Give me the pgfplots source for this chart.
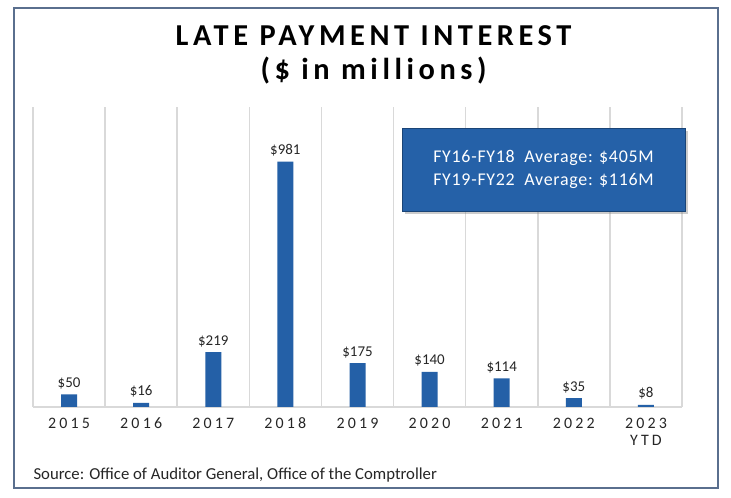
\documentclass[border=0pt]{standalone}
\usepackage{fontspec}
\setmainfont{Carlito}
\usepackage{pgfplots}
\pgfplotsset{compat=1.18}
\usetikzlibrary{shadows}
\definecolor{barblue}{HTML}{2460A7}
\definecolor{boxblue}{HTML}{2561A8}
\definecolor{frame}{HTML}{5A6F8E}
\definecolor{gridgray}{HTML}{D9D9D9}
\definecolor{txt}{HTML}{262626}

\begin{document}
\begin{tikzpicture}[x=1bp,y=1bp]
  \path[use as bounding box, fill=white] (0,0) rectangle (731,498);
  \draw[frame, line width=1.2bp] (14,10) rectangle (718,490);

  \node[font=\fontsize{30.5}{34}\selectfont\bfseries\addfontfeatures{LetterSpace=15}, text=black, align=center]
    at (373.5,443) {LATE PAYMENT INTEREST\\(\$ in millions)};

  \begin{axis}[
      at={(33bp,91bp)}, anchor=south west,
      scale only axis, width=649bp, height=300bp,
      xmin=-0.5, xmax=8.5, ymin=0, ymax=1200,
      axis x line*=bottom, axis y line=none,
      x axis line style={gridgray, line width=1.5bp, -},
      xtick={0,...,8},
      xticklabels={2015,2016,2017,2018,2019,2020,2021,2022,{2023\\YTD}},
      typeset ticklabels with strut,
      xticklabel style={align=center, text=txt, yshift=-6bp,
        font=\fontsize{16}{17}\selectfont\addfontfeatures{LetterSpace=20}},
      major tick length=0pt,
      minor xtick={-0.5,0.5,...,8.5},
      xminorgrids=true,
      minor grid style={gridgray, line width=1.5bp},
      tick style={draw=none},
      ybar, bar width=16bp,
      /pgf/number format/assume math mode=true,
      nodes near coords={\$\pgfmathprintnumber{\pgfplotspointmeta}},
      every node near coord/.append style={font=\fontsize{15}{16}\selectfont, text=txt, yshift=2bp},
      clip=false,
    ]
    \addplot[fill=barblue, draw=none] coordinates {
      (0,50)(1,16)(2,219)(3,981)(4,175)(5,140)(6,114)(7,35)(8,8)
    };
  \end{axis}

  \node[fill=boxblue, draw=boxblue!70!black, line width=0.6bp, drop shadow={shadow xshift=3bp, shadow yshift=-3bp, opacity=0.4},
        minimum width=283bp, minimum height=83bp, align=left, text=white,
        font=\fontsize{18}{23}\selectfont\addfontfeatures{LetterSpace=4}]
    at (543.5,328.5) {FY16-FY18\ \ Average: \$405M\\FY19-FY22\ \ Average: \$116M};

  \node[anchor=west, font=\fontsize{16.8}{18}\selectfont, text=txt] at (30,23) {Source: Office of Auditor General, Office of the Comptroller};
\end{tikzpicture}
\end{document}
